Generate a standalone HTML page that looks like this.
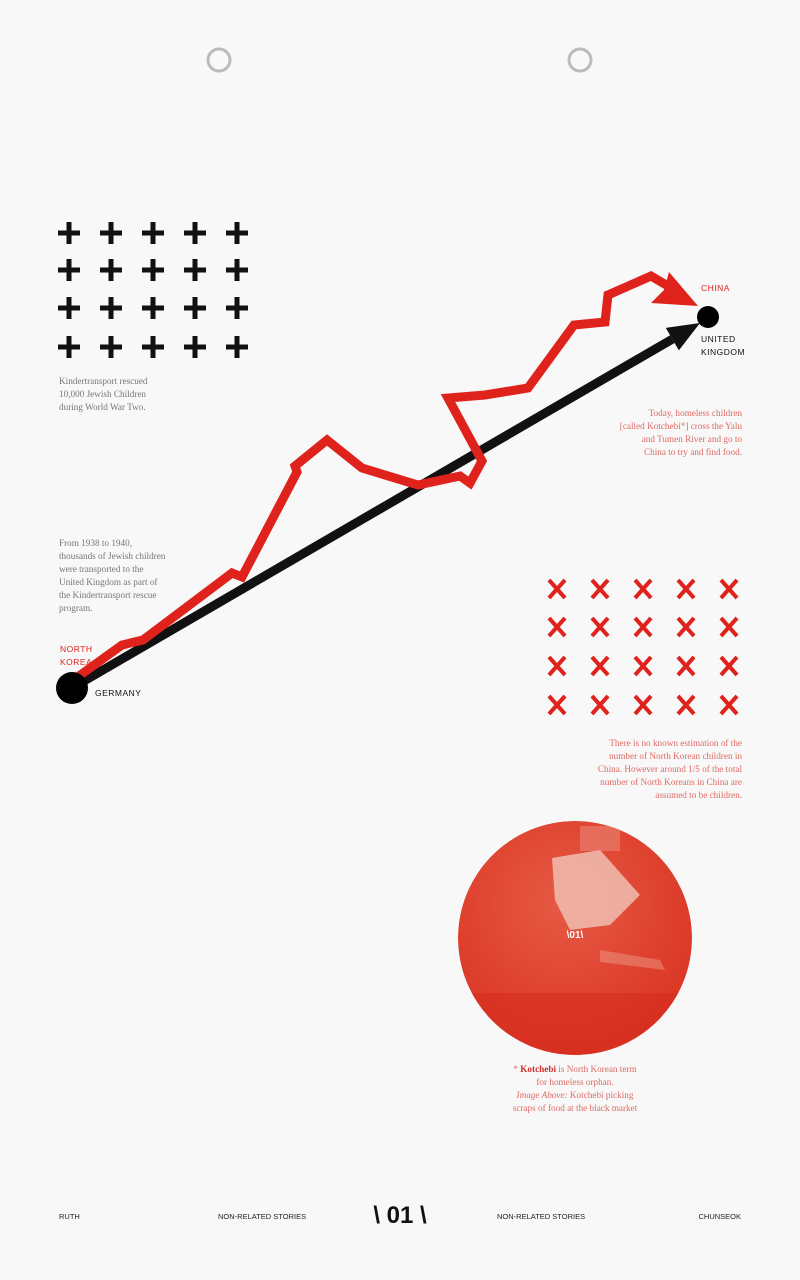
<!DOCTYPE html>
<html><head><meta charset="utf-8">
<style>
html,body{margin:0;padding:0;background:#f8f8f8;}
body{width:800px;height:1280px;position:relative;overflow:hidden;font-family:"Liberation Serif",serif;}
.t{position:absolute;font-size:9.2px;line-height:13px;color:#777;}
.r{color:#de6a64;text-align:right;}
.lab{position:absolute;font-family:"Liberation Sans",sans-serif;font-size:8.5px;letter-spacing:0.5px;line-height:13px;}
.ft{position:absolute;top:1212px;font-family:"Liberation Sans",sans-serif;font-size:7.5px;color:#222;}
</style></head><body>
<svg id="svg" width="800" height="1280" style="position:absolute;left:0;top:0">
<defs>
<radialGradient id="pg" cx="0.45" cy="0.35" r="0.75">
<stop offset="0" stop-color="#e65a44"/><stop offset="1" stop-color="#d9301f"/>
</radialGradient>
<clipPath id="cc"><circle cx="575" cy="938" r="117"/></clipPath>
</defs>
<circle cx="219" cy="60" r="11" fill="none" stroke="#bbb" stroke-width="3"/>
<circle cx="580" cy="60" r="11" fill="none" stroke="#bbb" stroke-width="3"/>
<g id="plus"></g>
<g id="xs"></g>
<g clip-path="url(#cc)">
<circle cx="575" cy="938" r="117" fill="url(#pg)"/>
<rect x="458" y="993" width="240" height="70" fill="#d42a1c" opacity="0.5"/>
<path d="M552 858 L600 850 L640 895 L610 925 L570 930 L555 900 Z" fill="#f0c4b8" opacity="0.8"/>
<rect x="580" y="826" width="40" height="25" fill="#ee9a8a" opacity="0.45"/>
<path d="M600 950 L660 960 L665 970 L600 962 Z" fill="#f0a090" opacity="0.45"/>
</g>
<text x="575" y="938" font-family="Liberation Sans" font-weight="bold" font-size="10" fill="#fff" text-anchor="middle">\01\</text>
</svg>

<div class="t" style="left:59px;top:375px">Kindertransport rescued<br>10,000 Jewish Children<br>during World War Two.</div>
<div class="t" style="left:59px;top:537px">From 1938 to 1940,<br>thousands of Jewish children<br>were transported to the<br>United Kingdom as part of<br>the Kindertransport rescue<br>program.</div>
<div class="t r" style="right:58px;top:407px">Today, homeless children<br>[called Kotchebi*] cross the Yalu<br>and Tumen River and go to<br>China to try and find food.</div>
<div class="t r" style="right:58px;top:737px">There is no known estimation of the<br>number of North Korean children in<br>China. However around 1/5 of the total<br>number of North Koreans in China are<br>assumed to be children.</div>
<div class="t" style="left:496px;width:158px;top:1063px;text-align:center;color:#de6a64">* <b style="color:#c9302c">Kotchebi</b> is North Korean term<br>for homeless orphan.<br><i>Image Above:</i> Kotchebi picking<br>scraps of food at the black market</div>

<div class="lab" style="left:701px;top:282px;color:#e0221c">CHINA</div>
<div class="lab" style="left:701px;top:333px;color:#111">UNITED<br>KINGDOM</div>
<div class="lab" style="left:60px;top:643px;color:#e0221c">NORTH<br>KOREA</div>
<div class="lab" style="left:95px;top:687px;color:#111">GERMANY</div>

<div class="ft" style="left:59px">RUTH</div>
<div class="ft" style="left:218px">NON-RELATED STORIES</div>
<div style="position:absolute;left:340px;width:120px;text-align:center;top:1202px;font-family:'Liberation Sans',sans-serif;font-weight:bold;font-size:24px;color:#111">\ 01 \</div>
<div class="ft" style="left:497px">NON-RELATED STORIES</div>
<div class="ft" style="right:59px">CHUNSEOK</div>

<script>
const routeX=[72,122,143,232,242,297,295,327,362,418,460,470,482,468,448,485,528,574,605,608,651,668];
const routeY=[681,645,640,573,577,472,466,440,468,485,476,483,461,435,398,395,388,325,322,295,276,286];
const blackStart=[72,688];
const blackEnd=[700,323];
const plusCols=[69,111,153,195,237];
const plusRows=[233,270,308,347];
const crossCols=[557,600,643,686,729];
const crossRows=[589,627,666,705];
const NS='http://www.w3.org/2000/svg';
const svg=document.getElementById('svg');
function mk(tag,attrs,parent){const e=document.createElementNS(NS,tag);for(const k in attrs)e.setAttribute(k,attrs[k]);(parent||svg).appendChild(e);return e;}
const pg=document.getElementById('plus');
plusRows.forEach(y=>plusCols.forEach(x=>{
 const p=mk('path',{d:`M${x-11} ${y}H${x+11}M${x} ${y-11}V${y+11}`,stroke:'#111','stroke-width':5},pg);
 
 
}));
const xg=document.getElementById('xs');
crossRows.forEach(y=>crossCols.forEach(x=>{
 const p=mk('path',{d:`M${x-8} ${y-9}L${x+8} ${y+9}M${x+8} ${y-9}L${x-8} ${y+9}`,stroke:'#e0221c','stroke-width':4},xg);
 
 
}));
const dx=blackEnd[0]-blackStart[0],dy=blackEnd[1]-blackStart[1],L=Math.hypot(dx,dy),ux=dx/L,uy=dy/L;
const hb=[blackEnd[0]-ux*32,blackEnd[1]-uy*32];
const bl=mk('line',{x1:blackStart[0],y1:blackStart[1],x2:hb[0],y2:hb[1],stroke:'#111','stroke-width':9});


const bh=mk('polygon',{points:`${blackEnd[0]},${blackEnd[1]} ${hb[0]-uy*13},${hb[1]+ux*13} ${hb[0]+uy*13},${hb[1]-ux*13}`,fill:'#111'});


const pts=routeX.map((x,i)=>x+','+routeY[i]).join(' ');
const rl=mk('polyline',{points:pts,fill:'none',stroke:'#e0221c','stroke-width':9,'stroke-linejoin':'miter'});


const rh=mk('polygon',{points:'669,272 698,306 651,303 664,290',fill:'#e0221c'});


const c1=mk('circle',{cx:blackStart[0],cy:blackStart[1],r:16,fill:'#000'});


const c2=mk('circle',{cx:708,cy:317,r:11,fill:'#000'});


</script>
</body></html>
